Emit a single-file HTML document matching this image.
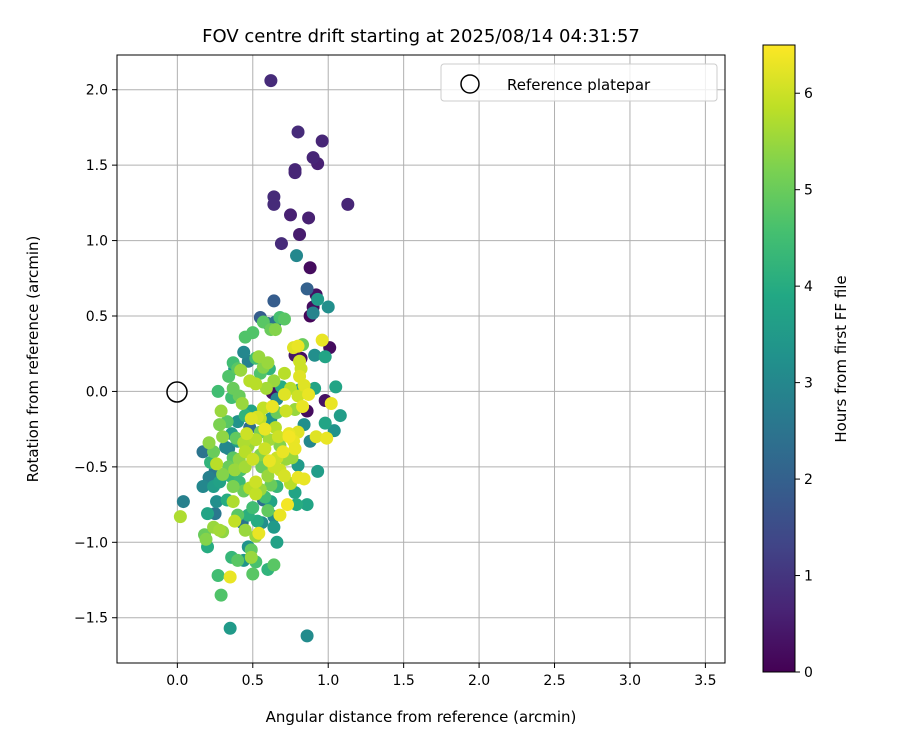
<!DOCTYPE html>
<html><head><meta charset="utf-8"><style>
body{margin:0;background:#fff;}
svg text{font-family:"DejaVu Sans","Liberation Sans",sans-serif;fill:#000;}
</style></head><body>
<svg id="chart" width="900" height="750" xmlns="http://www.w3.org/2000/svg">
<defs><linearGradient id="vir" x1="0" y1="1" x2="0" y2="0">
<stop offset="0" stop-color="#440154"/><stop offset="0.1" stop-color="#482475"/><stop offset="0.2" stop-color="#414487"/><stop offset="0.3" stop-color="#355f8d"/><stop offset="0.4" stop-color="#2a788e"/><stop offset="0.5" stop-color="#21918c"/><stop offset="0.6" stop-color="#22a884"/><stop offset="0.7" stop-color="#44bf70"/><stop offset="0.8" stop-color="#7ad151"/><stop offset="0.9" stop-color="#bddf26"/><stop offset="1" stop-color="#fde725"/>
</linearGradient></defs>
<text x="421" y="42" font-size="18" text-anchor="middle">FOV centre drift starting at 2025/08/14 04:31:57</text>
<g id="grid"></g>
<g id="pts"></g>
<rect x="117" y="55" width="608" height="608" fill="none" stroke="#000" stroke-width="1"/>
<g id="ticks"></g>
<circle cx="177" cy="392" r="10" fill="none" stroke="#000" stroke-width="1.5"/>
<text x="421" y="722" font-size="15" text-anchor="middle">Angular distance from reference (arcmin)</text>
<text transform="translate(38,359) rotate(-90)" font-size="15" text-anchor="middle">Rotation from reference (arcmin)</text>
<g>
<rect x="441" y="64" width="276" height="37" rx="3" fill="#fff" fill-opacity="0.8" stroke="#ccc"/>
<circle cx="470" cy="84" r="9" fill="none" stroke="#000" stroke-width="1.5"/>
<text x="507" y="90" font-size="15">Reference platepar</text>
</g>
<rect x="763" y="45" width="32" height="627" fill="url(#vir)" stroke="#000" stroke-width="1"/>
<g id="cbticks"></g>
<text transform="translate(846,359) rotate(-90)" font-size="15" text-anchor="middle">Hours from first FF file</text>
</svg>
<script>
const xTicks=[0,0.5,1,1.5,2,2.5,3,3.5];
const yTicks=[-1.5,-1,-0.5,0,0.5,1,1.5,2];
const cTicks=[0,1,2,3,4,5,6];
const xVals=[0.62,0.80,0.96,0.90,0.93,0.78,0.78,0.64,0.64,1.13,0.75,0.87,0.81,0.69,0.79,0.88,0.86,0.92,0.90,0.90,0.88,0.93,1.00,0.64,0.55,0.68,0.60,0.65,0.45,0.50,
0.80,0.83,0.77,0.96,1.01,0.98,0.62,0.65,0.71,0.57,0.78,0.81,0.82,0.81,0.91,0.52,0.54,0.60,0.57,0.61,0.55,0.37,0.40,0.44,0.47,0.64,0.71,0.84,0.87,0.80,0.81,0.91,0.98,0.86,0.63,0.52,0.27,0.37,0.41,0.36,0.43,0.66,0.71,0.75,1.05,1.02,1.08,0.98,1.04,0.99,0.92,0.88,0.80,0.77,0.78,0.76,0.74,0.67,0.72,0.78,0.83,0.84,0.63,0.57,0.53,0.49,0.46,0.44,0.39,0.33,0.29,0.28,0.30,0.32,0.21,0.24,0.22,0.17,0.26,0.30,0.34,0.38,0.41,0.45,0.50,0.55,0.58,0.61,0.64,0.68,0.71,0.72,0.80,0.80,0.84,0.93,0.78,0.79,0.86,0.73,0.68,0.64,0.64,0.66,0.60,0.64,0.50,0.35,0.27,0.29,0.35,0.86,0.36,0.44,0.49,0.52,0.47,0.52,0.54,0.49,0.40,0.20,0.19,0.18,0.24,0.30,0.28,0.20,0.02,0.04,0.25,0.26,0.24,0.17,0.21,0.25,0.28,0.33,0.37,0.38,0.40,0.43,0.45,0.47,0.50,0.53,0.56,0.60,0.62,0.58,0.55,0.52,0.48,0.44,0.41,0.37,0.35,0.37,0.34,0.40,0.47,0.52,0.55,0.58,0.61,0.65,0.68,0.70,0.66,0.60,0.56,0.45,0.42,0.52,0.57,0.62,0.66,0.75,0.74,0.49,0.45,0.40,0.36,0.48,0.55,0.62,0.66,0.69,0.59,0.48,0.38,0.42,0.34,0.82];
const yVals=[2.06,1.72,1.66,1.55,1.51,1.47,1.45,1.29,1.24,1.24,1.17,1.15,1.04,0.98,0.90,0.82,0.68,0.64,0.56,0.52,0.50,0.61,0.56,0.60,0.49,0.49,0.45,0.46,0.36,0.39,
0.30,0.31,0.29,0.34,0.29,0.23,0.41,0.41,0.48,0.46,0.24,0.20,0.15,0.10,0.24,0.22,0.23,0.19,0.16,0.15,0.12,0.19,0.15,0.26,0.20,0.07,0.12,0.04,-0.02,-0.03,0.01,0.02,-0.06,-0.13,-0.01,0.05,0.00,0.02,-0.03,-0.04,-0.08,-0.05,-0.02,0.02,0.03,-0.08,-0.16,-0.21,-0.26,-0.31,-0.30,-0.33,-0.27,-0.33,-0.38,-0.44,-0.28,-0.30,-0.13,-0.12,-0.10,-0.22,-0.10,-0.11,-0.17,-0.18,-0.28,-0.34,-0.31,-0.20,-0.13,-0.22,-0.30,-0.37,-0.34,-0.40,-0.47,-0.40,-0.48,-0.55,-0.50,-0.52,-0.45,-0.40,-0.45,-0.42,-0.38,-0.46,-0.50,-0.52,-0.56,-0.45,-0.49,-0.57,-0.58,-0.53,-0.67,-0.75,-0.75,-0.75,-0.82,-0.83,-0.90,-1.00,-1.18,-1.15,-1.21,-1.23,-1.22,-1.35,-1.57,-1.62,-1.10,-1.12,-1.10,-1.13,-1.03,-0.96,-0.94,-1.05,-1.12,-1.03,-0.98,-0.95,-0.90,-0.93,-0.92,-0.81,-0.83,-0.73,-0.81,-0.73,-0.63,-0.63,-0.57,-0.53,-0.60,-0.72,-0.73,-0.86,-0.82,-0.87,-0.92,-0.82,-0.77,-0.86,-0.87,-0.79,-0.73,-0.70,-0.65,-0.60,-0.64,-0.66,-0.60,-0.63,-0.56,-0.44,-0.38,-0.33,-0.36,-0.32,-0.27,-0.25,-0.32,-0.24,-0.36,-0.40,-0.44,-0.56,-0.50,-0.50,-0.52,-0.68,-0.72,-0.62,-0.63,-0.61,-0.30,-0.13,-0.16,-0.20,-0.28,-0.24,-0.18,-0.18,-0.14,0.03,0.02,0.07,0.15,0.14,0.10,0.22];
const hours=[0.8,0.8,0.7,0.7,0.6,0.7,0.7,0.8,0.8,0.7,0.6,0.6,0.5,0.8,3.0,0.2,2.0,0.3,0.2,2.9,0.1,3.5,3.2,1.9,1.9,4.6,2.4,2.5,4.7,4.7,
6.3,5.0,6.2,6.3,0.2,3.8,5.0,5.3,4.8,4.8,0.4,6.0,6.0,6.2,3.2,4.5,5.5,5.5,5.3,4.2,4.7,4.5,4.8,3.0,2.8,5.5,5.8,6.2,6.3,6.0,3.6,3.8,0.3,0.2,0.3,5.8,4.5,5.0,5.0,4.5,5.5,3.0,6.2,5.8,3.8,6.3,3.6,3.8,3.3,6.3,6.2,3.0,6.2,6.3,6.3,5.5,6.3,6.0,6.0,5.5,6.3,3.2,6.3,5.9,6.1,6.2,6.0,5.7,4.9,4.8,5.5,5.2,5.4,3.0,5.4,5.0,4.2,2.5,5.8,5.3,5.0,5.5,5.4,5.8,6.0,5.3,6.0,6.3,6.0,6.0,6.1,5.5,3.5,6.3,6.3,3.6,3.8,4.0,3.8,6.4,6.3,3.1,3.5,3.7,4.2,4.8,4.8,6.3,4.5,4.7,3.5,3.1,4.3,3.4,5.5,4.6,3.3,5.5,6.3,4.9,4.8,4.0,5.3,5.0,5.5,5.4,5.6,3.8,5.7,2.8,2.6,3.2,3.6,3.0,2.8,2.6,3.7,4.0,5.7,5.9,4.8,2.5,5.5,4.1,4.5,4.0,3.2,4.9,3.8,4.5,5.5,6.0,5.8,5.0,4.4,5.2,4.3,4.8,2.8,3.6,5.5,5.8,5.2,6.3,5.6,5.8,5.3,6.3,6.0,5.5,5.0,5.6,4.6,5.9,2.4,5.0,4.3,5.8,6.4,3.8,4.2,3.3,3.6,2.3,5.9,3.3,5.0,4.0,5.6,5.8,3.4,5.5,4.7,0.3];
const NS='http://www.w3.org/2000/svg';
const X0=117,X1=725,Y0=55,Y1=663,xmin=-0.4,xmax=3.63,ymin=-1.80,ymax=2.23,cmax=6.5;
const sx=v=>X0+(v-xmin)/(xmax-xmin)*(X1-X0);
const sy=v=>Y1-(v-ymin)/(ymax-ymin)*(Y1-Y0);
const sc=v=>672-v/cmax*627;
const stops=[[68,1,84],[72,36,117],[65,68,135],[53,95,141],[42,120,142],[33,145,140],[34,168,132],[68,191,112],[122,209,81],[189,223,38],[253,231,37]];
function vir(h){let t=Math.max(0,Math.min(1,h/cmax))*10;let i=Math.min(9,Math.floor(t)),f=t-i;const a=stops[i],b=stops[i+1];return 'rgb('+a.map((c,k)=>Math.round(c+(b[k]-c)*f)).join(',')+')';}
function mk(tag,attrs,parent){const e=document.createElementNS(NS,tag);for(const k in attrs)e.setAttribute(k,attrs[k]);parent.appendChild(e);return e;}
const grid=document.getElementById('grid'),ticks=document.getElementById('ticks'),pts=document.getElementById('pts'),cb=document.getElementById('cbticks');
xTicks.forEach(v=>{const x=sx(v);
const g=mk('line',{x1:x,x2:x,y1:Y0,y2:Y1,stroke:'#b0b0b0','stroke-width':1},grid);

mk('line',{x1:x,x2:x,y1:Y1,y2:Y1+5,stroke:'#000'},ticks);
const t=mk('text',{x:x,y:Y1+22,'font-size':14,'text-anchor':'middle'},ticks);t.textContent=v.toFixed(1);
});
yTicks.forEach(v=>{const y=sy(v);
const g=mk('line',{x1:X0,x2:X1,y1:y,y2:y,stroke:'#b0b0b0','stroke-width':1},grid);

mk('line',{x1:X0-5,x2:X0,y1:y,y2:y,stroke:'#000'},ticks);
const t=mk('text',{x:X0-9,y:y+5,'font-size':14,'text-anchor':'end'},ticks);t.textContent=(v<0?'\u2212':'')+Math.abs(v).toFixed(1);
});
cTicks.forEach(v=>{const y=sc(v);
mk('line',{x1:795,x2:800,y1:y,y2:y,stroke:'#000'},cb);
const t=mk('text',{x:804,y:y+5,'font-size':14},cb);t.textContent=String(v);
});
const idx=hours.map((h,i)=>i).sort((a,b)=>hours[a]-hours[b]);
idx.forEach(i=>{const c=mk('circle',{cx:sx(xVals[i]),cy:sy(yVals[i]),r:6.5,fill:vir(hours[i])},pts);

});
</script>
</body></html>
